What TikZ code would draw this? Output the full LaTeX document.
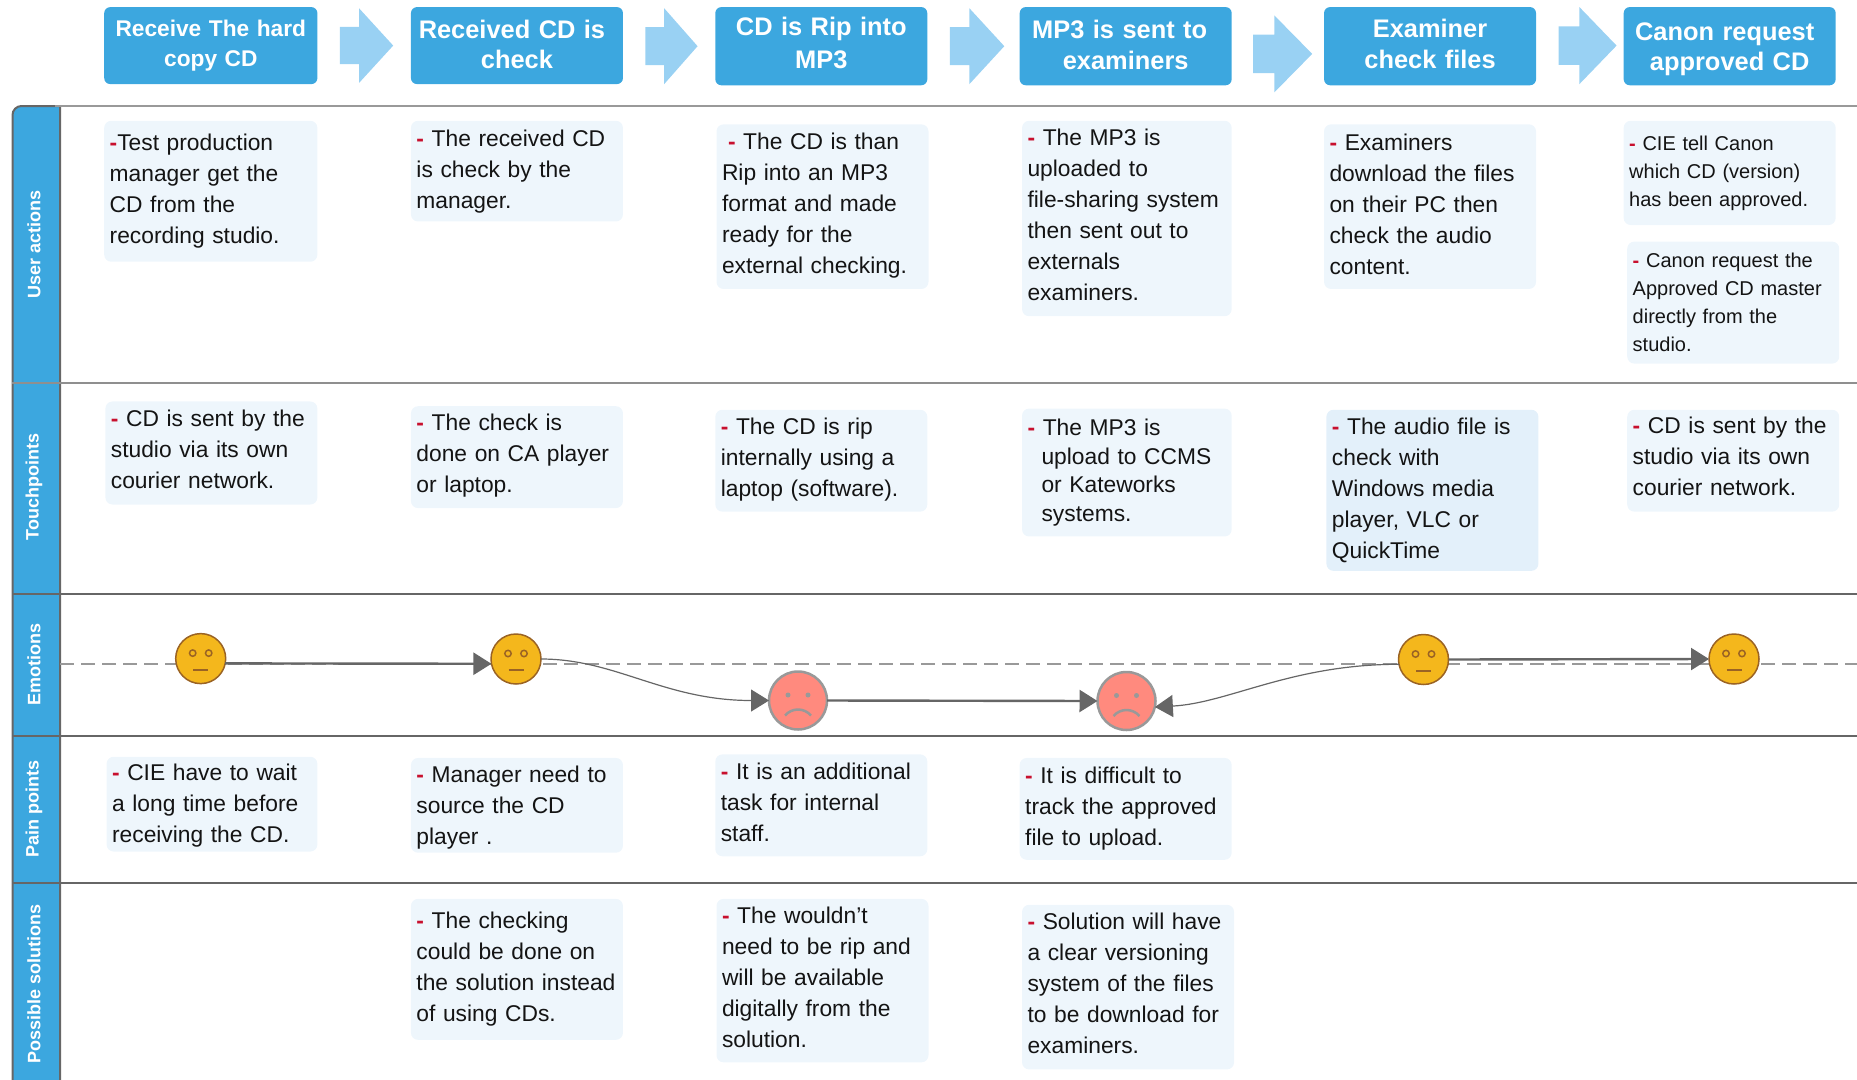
\documentclass[tikz,border=0pt]{standalone}
\usepackage{fontspec}
\setmainfont{Liberation Sans}
\usetikzlibrary{arrows.meta}
\definecolor{hdr}{HTML}{3CA7DF}
\definecolor{arw}{HTML}{99D1F3}
\definecolor{bx}{HTML}{EEF6FC}
\definecolor{bxd}{HTML}{E3F0FA}
\definecolor{rd}{HTML}{C8102E}
\definecolor{ln}{HTML}{666666}
\definecolor{ink}{HTML}{141414}
\definecolor{yl}{HTML}{F4B71C}
\definecolor{br}{HTML}{9A6324}
\definecolor{rf}{HTML}{FF8A7E}
\definecolor{gf}{HTML}{999999}
\def\sc{1.1843}
\newcommand{\rdash}{{\color{rd}\textbf{-}}}
\newcommand{\up}[1]{\rule[-#1pt]{0pt}{1pt}}
\newcommand{\down}[1]{\rule{0pt}{#1pt}}
\newcommand{\tbox}[7]{%
  \pgfmathsetmacro\bw{(#4-#2)*\sc}\pgfmathsetmacro\bh{(#5-#3)*\sc}%
  \pgfmathsetmacro\tw{\bw-11}%
  \pgfmathsetmacro\cx{(#2+#4)/2*\sc}\pgfmathsetmacro\cy{-(#3+#5)/2*\sc}%
  \node[#6,minimum width=\bw pt,minimum height=\bh pt,text width=\tw pt] (#1) at (\cx,\cy) {#7};}
\newcommand{\blockarrow}[4]{% x1 x2 y1 y2 in shown units
  \pgfmathsetmacro\xa{#1*\sc}\pgfmathsetmacro\xc{#2*\sc}%
  \pgfmathsetmacro\xb{\xa+0.36*(\xc-\xa)}%
  \pgfmathsetmacro\ya{-#3*\sc}\pgfmathsetmacro\yd{-#4*\sc}%
  \pgfmathsetmacro\ym{(\ya+\yd)/2}%
  \pgfmathsetmacro\yb{\ym+0.25*(\ya-\yd)}\pgfmathsetmacro\yc{\ym-0.25*(\ya-\yd)}%
  \fill[arw] (\xa,\yb) -- (\xb,\yb) -- (\xb,\ya) -- (\xc,\ym) -- (\xb,\yd) -- (\xb,\yc) -- (\xa,\yc) -- cycle;}
\newcommand{\neutralface}[3]{%
  \node[neutralf] (#1) at (#2,#3) {};
  \draw[featn] (#2-8,#3+5.5) circle[radius=3.2];
  \draw[featn] (#2+8,#3+5.5) circle[radius=3.2];
  \draw[featn,line width=2pt] (#2-7.5,#3-11) -- (#2+7.5,#3-11);}
\newcommand{\sadface}[3]{%
  \node[sadf] (#1) at (#2,#3) {};
  \fill[gf] (#2-10,#3+5.5) circle[radius=2.5];
  \fill[gf] (#2+10,#3+5.5) circle[radius=2.5];
  \draw[gf,line width=2.5pt] (#2-13,#3-15) .. controls (#2-6,#3-7) and (#2+6,#3-7) .. (#2+13,#3-15);}
\tikzset{
  x=1pt,y=1pt,
  head/.style={fill=hdr,rounded corners=6pt,text=white,align=center,inner sep=0pt,outer sep=0pt,font=\bfseries\fontsize{25.4}{30.5}\selectfont},
  heads/.style={head,font=\bfseries\fontsize{22.7}{30}\selectfont},
  headw/.style={head,font=\bfseries\fontsize{25.4}{33}\selectfont},
  note/.style={fill=bx,rounded corners=7pt,text=ink,align=left,inner xsep=5.5pt,inner ysep=0pt,outer sep=0pt,font=\fontsize{22.8}{31}\selectfont},
  notem/.style={note,font=\fontsize{22.8}{28.4}\selectfont},
  notes/.style={note,font=\fontsize{20}{28}\selectfont},
  side/.style={rotate=90,text=white,inner sep=0pt,font=\bfseries\fontsize{18}{20}\selectfont},
  rowline/.style={ln,line width=2pt},
  neutralf/.style={circle,draw=br,fill=yl,line width=1.5pt,minimum size=50pt,inner sep=0pt,outer sep=0pt},
  sadf/.style={circle,draw=gf,fill=rf,line width=2.5pt,minimum size=58pt,inner sep=0pt,outer sep=0pt},
  featn/.style={br,line width=1.5pt},
  thick conn/.style={ln,line width=2.4pt,-{Triangle[length=18pt,width=22pt]}},
  thin conn/.style={ln,line width=1.2pt,-{Triangle[length=18pt,width=22pt]}},
}
\begin{document}
\begin{tikzpicture}
\useasboundingbox (0,0) rectangle (1857,-1079);
% sidebar
\draw[fill=hdr,draw=ln,line width=2pt] (12.5,-1085) [rounded corners=9pt] -- (12.5,-106) [sharp corners] -- (60,-106) -- (60,-1085);
% row lines
\coordinate (r0a) at (55,-106); \coordinate (r0b) at (1857,-106);
\coordinate (r1a) at (12,-382.5); \coordinate (r1b) at (1857,-382.5);
\coordinate (r2a) at (12,-594); \coordinate (r2b) at (1857,-594);
\coordinate (r3a) at (12,-735.7); \coordinate (r3b) at (1857,-735.7);
\coordinate (r4a) at (12,-882.7); \coordinate (r4b) at (1857,-882.7);
\draw[gf,line width=2pt] (r0a) -- (r0b);
\draw[rowline,gf!80!ln] (r1a) -- (r1b);
\draw[rowline] (r2a) -- (r2b);
\draw[rowline] (r3a) -- (r3b);
\draw[rowline] (r4a) -- (r4b);
% sidebar labels
\node[side] (l1) at (34,-244) {User actions};
\node[side] (l2) at (34,-487) {Touchpoints};
\node[side] (l3) at (34,-664) {Emotions};
\node[side] (l4) at (34,-809) {Pain points};
\node[side] (l5) at (34,-984) {Possible solutions};
% headers
\tbox{h1}{88}{6}{268}{71}{heads}{Receive The hard\\copy CD}
\tbox{h2}{347}{6}{526}{71}{head}{\hspace*{-10pt}Received CD is\\check\up{2.4}}
\tbox{h3}{604}{6}{783}{72}{headw}{CD is Rip into\\MP3\up{7}}
\tbox{h4}{861}{6}{1040}{72}{head}{\hspace*{-12pt}MP3 is sent to\\examiners\up{2.4}}
\tbox{h5}{1118}{6}{1297}{72}{head}{Examiner\\check files\up{5}}
\tbox{h6}{1371}{6}{1550}{72}{head}{\down{24}\hspace*{-10pt}Canon request\\approved CD}
\blockarrow{287}{332}{7}{70}
\blockarrow{545}{589}{7}{71}
\blockarrow{802}{848}{7}{71}
\blockarrow{1058}{1108}{13}{78}
\blockarrow{1316}{1365}{6}{71}
% user actions
\tbox{a1}{88}{102}{268}{221}{note}{\rdash Test production\\manager get the\\CD from the\\recording studio.}
\tbox{a2}{347}{102}{526}{187}{note}{\rdash\ The received CD\\is check by the\\manager.}
\tbox{a3}{605}{105}{784}{244}{note}{\hspace*{6pt}\rdash\ The CD is than\\Rip into an MP3\\format and made\\ready for the\\external checking.\up{7}}
\tbox{a4}{863}{102}{1040}{267}{note}{\rdash\ The MP3 is\\uploaded to\\file-sharing system\\then sent out to\\externals\\examiners.\up{7}}
\tbox{a5}{1118}{105}{1297}{244}{note}{\rdash\ Examiners\\download the files\\on their PC then\\check the audio\\content.\up{5}}
\tbox{a6}{1371}{102}{1550}{190}{notes}{\rdash\ CIE tell Canon\\which CD (version)\\has been approved.}
\tbox{a7}{1374}{204}{1553}{307}{notes}{\rdash\ Canon request the\\Approved CD master\\directly from the\\studio.}
% touchpoints
\tbox{t1}{89}{339}{268}{426}{note}{\rdash\ CD is sent by the\\studio via its own\\courier network.\up{7}}
\tbox{t2}{347}{343}{526}{429}{note}{\rdash\ The check is\\done on CA player\\or laptop.\up{7}}
\tbox{t3}{604}{346}{783}{432}{note}{\rdash\ The CD is rip\\internally using a\\laptop (software).\up{7}}
\tbox{t4}{863}{345}{1040}{453}{notem}{\rdash\ The MP3 is\\\hspace*{14pt}upload to CCMS\\\hspace*{14pt}or Kateworks\\\hspace*{14pt}systems.}
\tbox{t5}{1120}{346}{1299}{482}{note,fill=bxd}{\rdash\ The audio file is\\check with\\Windows media\\player, VLC or\\QuickTime}
\tbox{t6}{1374}{346}{1553}{432}{note}{\rdash\ CD is sent by the\\studio via its own\\courier network.\up{9.5}}
% emotions
\coordinate (da) at (60,-663.7); \coordinate (db) at (1857,-663.7);
\draw[gf,line width=2pt,dash pattern=on 14pt off 7pt] (da) -- (db);
\neutralface{f1}{200.7}{-658.6}
\neutralface{f2}{516}{-659}
\sadface{f3}{798}{-700.5}
\sadface{f4}{1126.5}{-701}
\neutralface{f5}{1423.5}{-659.5}
\neutralface{f6}{1734}{-659}
\draw[thick conn] (f1.349) -- (f2.191);
\draw[thin conn] (f2.east) .. controls +(75,0) and +(-105,0) .. (f3.west);
\draw[thick conn] (f3.east) -- (f4.west);
\draw[thin conn] (f5.191) .. controls +(-108,0) and +(74,4) .. (f4.348);
\draw[thick conn] (f5.east) -- (f6.west);
% pain points
\tbox{p1}{90}{639}{268}{719}{note}{\down{19.4}\rdash\ CIE have to wait\\a long time before\\receiving the CD.}
\tbox{p2}{347}{640}{526}{720}{note}{\down{21.8}\rdash\ Manager need to\\source the CD\\player .}
\tbox{p3}{604}{637}{783}{723}{note}{\rdash\ It is an additional\\task for internal\\staff.\up{7}}
\tbox{p4}{861}{640}{1040}{726}{note}{\rdash\ It is difficult to\\track the approved\\file to upload.}
% solutions
\tbox{s2}{347}{759}{526}{878}{note}{\rdash\ The checking\\could be done on\\the solution instead\\of using CDs.}
\tbox{s3}{605}{759}{784}{897}{note}{\rdash\ The wouldn’t\\need to be rip and\\will be available\\digitally from the\\solution.\up{7}}
\tbox{s4}{863}{764}{1042}{903}{note}{\rdash\ Solution will have\\a clear versioning\\system of the files\\to be download for\\examiners.\up{7}}
\end{tikzpicture}
\end{document}
